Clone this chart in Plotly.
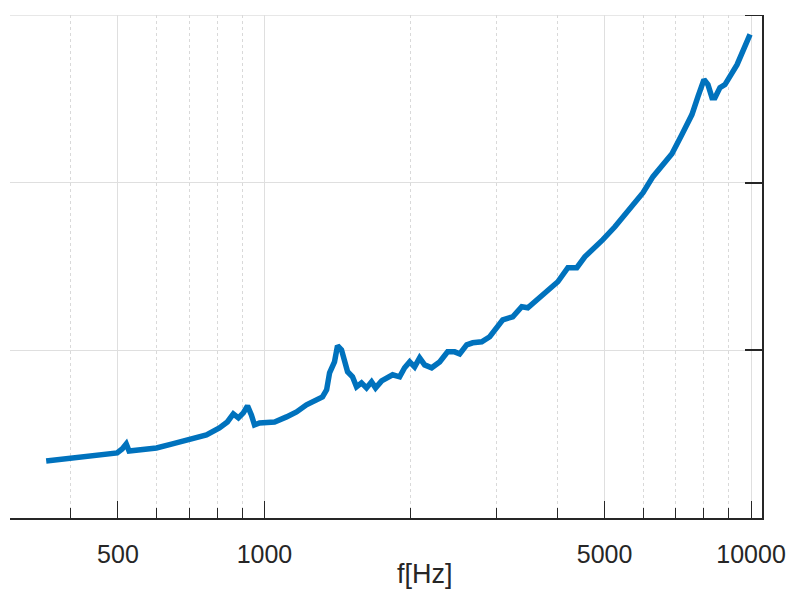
import plotly.graph_objects as go

# frequency [Hz]
freq = [356, 403, 451, 498, 510, 520, 527, 553, 600, 647, 701, 760, 808, 839, 863,
        884, 905, 923, 940, 954, 977, 1010, 1049, 1110, 1164, 1220, 1279, 1316, 1342,
        1361, 1393, 1413, 1440, 1461, 1482, 1517, 1546, 1583, 1621, 1660, 1692, 1741,
        1791, 1834, 1896, 1941, 1988, 2035, 2084, 2134, 2206, 2291, 2379, 2460, 2519,
        2604, 2679, 2796, 2904, 3016, 3088, 3238, 3379, 3477, 3681, 3914, 4008, 4203,
        4385, 4554, 4730, 4960, 5251, 5584, 5998, 6287, 6591, 6878, 7210, 7560, 7778,
        8003, 8155, 8313, 8430, 8632, 8839, 9359, 9953]
# response (arbitrary units, no labels shown)
resp = [0.340, 0.358, 0.376, 0.388, 0.412, 0.442, 0.400, 0.406, 0.418, 0.442, 0.466,
        0.496, 0.537, 0.573, 0.621, 0.597, 0.627, 0.669, 0.615, 0.555, 0.567, 0.573,
        0.573, 0.603, 0.633, 0.675, 0.699, 0.722, 0.764, 0.866, 0.931, 1.027, 1.003,
        0.925, 0.872, 0.842, 0.782, 0.806, 0.776, 0.812, 0.776, 0.818, 0.836, 0.854,
        0.842, 0.896, 0.931, 0.901, 0.955, 0.913, 0.896, 0.931, 0.991, 0.991, 0.979,
        1.033, 1.045, 1.051, 1.081, 1.140, 1.182, 1.200, 1.260, 1.254, 1.319, 1.391,
        1.409, 1.493, 1.493, 1.558, 1.600, 1.660, 1.737, 1.827, 1.940, 2.036, 2.107,
        2.173, 2.287, 2.406, 2.513, 2.615, 2.585, 2.507, 2.507, 2.567, 2.585, 2.704,
        2.884]

x_major = [500, 1000, 5000, 10000]
x_major_text = ["500", "1000", "5000", "10000"]
x_minor = [300, 400, 600, 700, 800, 900, 2000, 3000, 4000, 6000, 7000, 8000, 9000]
y_ticks = [0, 1, 2, 3]
y_top = 3

FONT = "Arial, Liberation Sans, Helvetica, sans-serif"
AX = "#262626"
GRID = "#dfdfdf"

fig = go.Figure()
fig.add_trace(go.Scatter(x=freq, y=resp, mode="lines",
                         line=dict(color="#0072BD", width=5.5),
                         showlegend=False, hoverinfo="skip"))

fig.update_layout(
    width=790, height=590,
    margin=dict(l=10, r=28, t=15, b=72, autoexpand=False),
    paper_bgcolor="white", plot_bgcolor="white",
    font=dict(family=FONT, size=25, color=AX),
    xaxis=dict(
        type="log", range=[2.4771, 4.0225], automargin=False,
        tickmode="array", tickvals=x_major, ticktext=x_major_text,
        ticks="inside", ticklen=17, tickwidth=1.3, tickcolor=AX,
        showline=True, linecolor=AX, linewidth=2, mirror=False,
        showgrid=True, gridcolor=GRID, gridwidth=1.3,
        zeroline=False, ticklabelstandoff=13,
        tickfont=dict(family=FONT, size=25, color=AX),
        minor=dict(tickmode="array", tickvals=x_minor, ticks="inside",
                   ticklen=10, tickwidth=1.3, tickcolor=AX,
                   showgrid=True, gridcolor="#d9d9d9", griddash="dot", gridwidth=1),
    ),
    yaxis=dict(
        range=[0, y_top], side="right", automargin=False,
        tickmode="array", tickvals=y_ticks, showticklabels=False,
        ticks="inside", ticklen=17, tickwidth=2, tickcolor=AX,
        showline=True, linecolor=AX, linewidth=2,
        showgrid=True, gridcolor=GRID, gridwidth=1.3, zeroline=False,
    ),
    shapes=[
        # top grid line and top tick (plotly drops them at the range edge)
        dict(type="line", xref="paper", yref="y", x0=0, x1=1, y0=y_top, y1=y_top,
             line=dict(color=GRID, width=1.3), layer="below"),
        dict(type="line", xref="paper", yref="y", xsizemode="pixel", xanchor=1,
             x0=-17, x1=0, y0=y_top, y1=y_top, line=dict(color=AX, width=2)),
    ],
    annotations=[dict(text="f[Hz]", xref="paper", yref="paper", x=0.552, y=0,
                      xanchor="center", yanchor="middle", yshift=-56,
                      showarrow=False, font=dict(family=FONT, size=27, color=AX))],
)

fig.write_html("out.html")
